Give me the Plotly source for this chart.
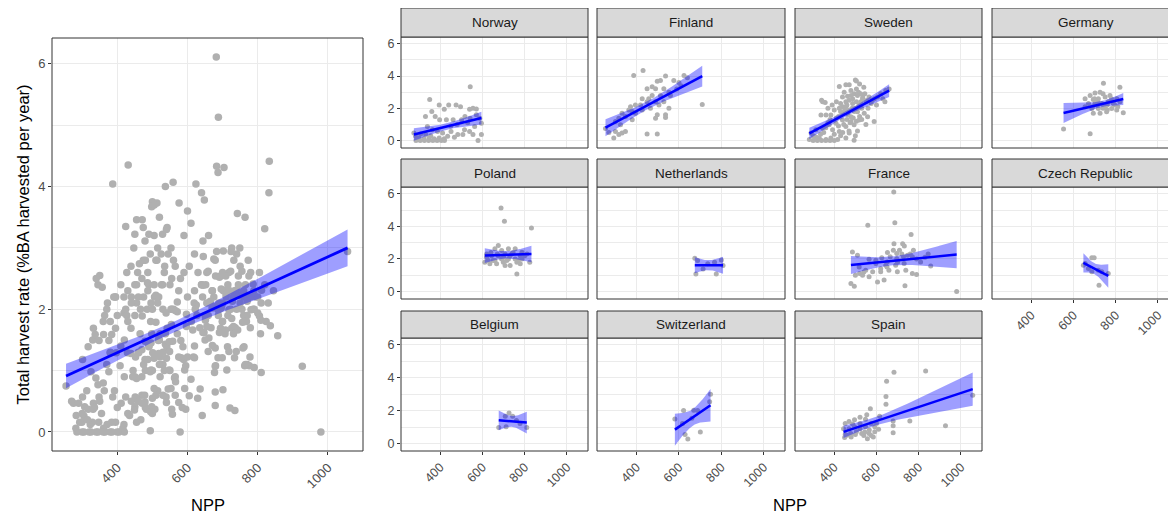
import numpy as np
import plotly.graph_objects as go

# ---------------- data ----------------
countries = ["Norway", "Finland", "Sweden", "Germany", "Poland", "Netherlands",
             "France", "Czech Republic", "Belgium", "Switzerland", "Spain"]

norway_npp = [542, 350, 395, 440, 419, 475, 496, 539, 555, 571, 376, 397, 429, 461, 501, 517, 541, 571, 587,
              595, 579, 555, 539, 339, 363, 387, 411, 451, 483, 283, 299, 323, 347, 371, 395, 419, 307, 331,
              275, 435, 467, 515, 507, 563, 595, 285, 305, 325, 345, 365, 385, 405, 420, 355, 450, 480, 530,
              330, 360]
norway_harvest = [3.33, 2.55, 2.2, 2.2, 1.94, 2.2, 2.1, 1.94, 2.0, 1.96, 1.49, 1.29, 1.29, 1.29, 1.29, 1.49, 1.39,
                  1.6, 1.39, 0.37, 0.0, 0.37, 0.57, 0.88, 0.67, 0.57, 0.47, 0.57, 0.37, 0.27, 0.16, 0.12, 0.16,
                  0.12, 0.16, 0.12, 0.41, 0.37, 0.47, 0.27, 0.2, 0.67, 0.37, 0.88, 1.08, 0.0, 0.0, 0.0, 0.0,
                  0.0, 0.0, 0.0, 0.0, 0.3, 0.9, 1.0, 1.1,
                  1.5, 1.8]

finland_npp = [254, 270, 293, 301, 317, 332, 348, 301, 317, 325, 332, 348, 364, 372, 380, 380, 395, 395, 387,
               419, 427, 427, 431, 450, 450, 458, 466, 474, 474, 490, 490, 490, 498, 498, 506, 513, 513, 529,
               529, 537, 537, 537, 553, 553, 576, 600, 624, 450, 498, 710, 560, 590, 640, 610]
finland_harvest = [0.75, 0.5, 0.16, 0.57, 0.37, 0.47, 0.57, 1.18, 1.39, 0.98, 1.69, 1.49, 1.9, 2.1, 1.29, 1.8,
                   1.69, 2.2, 4.04, 2.2, 1.9, 2.6, 4.35, 2.4, 3.22, 2.6, 2.0, 2.8, 3.33, 2.4, 3.22, 1.39, 1.6,
                   3.67, 2.2, 2.8, 3.73, 2.4, 3.22, 1.6, 1.43, 4.0, 2.0, 3.0, 3.73, 3.6, 4.04, 0.41, 0.41, 2.24,
                   2.8, 3.2, 3.9, 3.4]

sweden_npp = [424, 455, 471, 479, 494, 439, 463, 510, 534, 345, 357, 455, 487, 518, 550, 605, 644, 660, 337,
              361, 384, 439, 471, 510, 542, 439, 479, 518, 558, 589, 408, 376, 345, 313, 290, 305, 329, 361,
              384, 416, 455, 494, 471, 424, 392, 455, 494, 282, 479, 455, 424, 487, 526, 447, 500, 505, 520,
              540, 430, 465, 500, 530, 410, 445, 520, 560, 580, 620, 300, 320, 340, 360, 380, 400, 430, 470,
              510, 400,
              505, 515, 525, 535, 545, 555, 565, 575, 590, 600, 630, 640, 485, 495, 505, 515, 480, 470, 460,
              450, 440, 430, 420, 410, 400, 390, 380, 370, 360, 350, 335, 315, 300, 460, 475, 490, 505, 530,
              550, 420, 440, 500, 340, 370]
sweden_harvest = [3.35, 3.46, 3.46, 3.11, 2.9, 2.7, 2.74, 2.8, 2.6, 2.4, 2.36, 2.4, 2.3, 2.2, 2.4, 2.7, 3.11,
                  3.2, 1.59, 1.59, 1.59, 1.69, 1.89, 1.79, 1.69, 1.28, 1.18, 1.28, 1.48, 1.18, 1.08, 0.98,
                  0.77, 0.67, 0.47, 0.26, 0.16, 0.06, 0.16, 0.06, 0.16, 0.02, 0.47, 0.57, 0.67, 0.87, 0.98,
                  0.06, 1.48, 2.1, 2.0, 2.6, 2.4, 3.0, 3.75, 3.7, 3.5, 3.3, 2.3, 1.6, 2.0, 2.0, 1.4, 1.0,
                  1.5, 2.0, 2.5, 2.9, 0.0, 0.0, 0.0, 0.0, 0.0, 0.0, 0.3, 0.6, 0.6, 0.4,
                  3.2, 3.0, 2.9, 2.7, 2.9, 2.5, 2.7, 2.3, 2.6, 2.2, 2.6, 2.4, 2.0, 1.8, 2.4, 2.1, 2.8, 2.5,
                  2.2, 1.9, 2.1, 1.8, 1.5, 2.4, 1.9, 2.2, 1.3, 1.1, 0.8, 0.5, 0.4, 0.2, 0.3, 1.3, 1.1, 1.4,
                  1.2, 1.3, 1.0, 0.9, 0.5, 0.3, 2.5, 2.0]

germany_npp = [742, 820, 726, 702, 679, 655, 694, 718, 750, 773, 805, 671, 702, 734, 765, 789, 820, 687, 718,
               750, 781, 805, 836, 694, 726, 757, 553, 679, 655, 710,
               690, 700, 715, 740, 760, 780, 795, 810, 740, 760]
germany_harvest = [3.56, 3.31, 3.0, 2.95, 2.8, 2.6, 2.54, 2.6, 2.7, 2.8, 2.6, 2.3, 2.3, 2.3, 2.4, 2.3, 2.4,
                   1.99, 1.99, 2.1, 1.99, 1.89, 1.73, 1.69, 1.69, 1.79, 0.71, 0.43, 2.1, 2.2,
                   2.1, 2.6, 2.4, 2.0, 2.2, 2.6, 2.2, 2.1, 2.9, 1.9]

poland_npp = [688, 704, 832, 675, 659, 691, 723, 755, 787, 619, 643, 675, 707, 739, 779, 811, 611, 635, 667,
              699, 731, 763, 824, 627, 659, 691, 723, 755, 787, 763, 707, 779,
              640, 650, 670, 700, 715, 730, 745, 770, 800, 620]
poland_harvest = [5.13, 4.31, 3.9, 2.82, 2.62, 2.52, 2.62, 2.62, 2.41, 2.1, 2.2, 2.2, 2.31, 2.31, 2.2, 2.31,
                  1.8, 1.7, 1.7, 1.8, 1.6, 1.8, 1.8, 1.9, 1.9, 2.0, 2.0, 2.0, 2.0, 1.08, 1.6, 1.7,
                  2.4, 1.9, 2.3, 2.1, 1.9, 2.2, 2.4, 1.9, 2.2, 2.3]

netherlands_npp = [675, 688, 714, 680, 776, 800, 808, 736, 768]
netherlands_harvest = [2.04, 1.9, 1.39, 1.08, 1.08, 1.94, 1.6, 1.7, 1.8]

france_npp = [682, 687, 559, 764, 683, 724, 732, 775, 680, 709, 652, 625, 565, 486, 510, 696, 747, 665, 696,
              728, 809, 857, 597, 644, 691, 731, 518, 549, 582, 620, 659, 699, 739, 534, 565, 605, 636, 479,
              495, 735, 980, 770, 651, 597,
              520, 540, 500, 620, 650, 700, 720, 760, 790, 830, 845, 770, 790]
france_harvest = [6.11, 4.23, 4.07, 3.5, 2.94, 2.94, 2.8, 2.54, 2.54, 2.54, 2.4, 2.07, 1.98, 2.43, 2.23, 2.33,
                  2.23, 2.13, 2.02, 2.13, 1.82, 1.57, 1.72, 1.62, 1.62, 1.72, 1.51, 1.31, 1.21, 1.21, 1.31,
                  1.21, 1.31, 1.0, 0.9, 0.59, 0.7, 0.49, 0.33, 0.35, 0.0, 2.13, 1.82, 1.92,
                  1.1, 1.2, 1.0, 1.4, 1.5, 1.8, 2.3, 2.3, 2.0, 2.1, 2.3, 1.1, 1.05]

czech_npp = [687, 698, 647, 671, 687, 718, 765, 721, 655, 734]
czech_harvest = [2.07, 2.07, 1.62, 1.41, 1.21, 1.31, 1.1, 0.39, 1.72, 1.21]

belgium_npp = [726, 708, 677, 712, 761, 810, 743, 778]
belgium_harvest = [1.85, 1.66, 0.97, 1.01, 1.39, 0.97, 1.66, 1.22]

switzerland_npp = [581, 622, 670, 688, 749, 745, 629, 642, 701, 617, 661]
switzerland_harvest = [1.49, 2.0, 2.02, 2.0, 3.0, 2.54, 0.55, 0.27, 0.69, 1.22, 1.53]

spain_npp = [683, 833, 648, 645, 645, 571, 615, 758, 679, 927, 679, 679, 1056, 452, 470, 496, 522, 548, 575,
             592, 444, 470, 496, 522, 548, 566, 592, 452, 478, 505, 540, 557, 575, 449, 600, 522, 487, 554, 610,
             460, 480, 500, 530, 545, 565, 585]
spain_harvest = [4.33, 4.41, 3.78, 2.86, 2.39, 2.12, 1.66, 1.37, 1.37, 1.07, 1.07, 0.65, 2.94, 1.22, 1.34,
                 1.45, 1.6, 1.47, 1.22, 1.01, 0.9, 0.9, 1.01, 0.9, 1.01, 0.82, 0.71, 0.55, 0.6, 0.71, 0.48,
                 0.29, 0.48, 0.36, 1.22, 1.22, 1.18, 1.75, 0.86,
                 0.5, 0.4, 0.55, 0.6, 0.7, 0.6, 0.4]

npp_by_country = [norway_npp, finland_npp, sweden_npp, germany_npp, poland_npp, netherlands_npp,
                  france_npp, czech_npp, belgium_npp, switzerland_npp, spain_npp]
harvest_by_country = [norway_harvest, finland_harvest, sweden_harvest, germany_harvest, poland_harvest,
                      netherlands_harvest, france_harvest, czech_harvest, belgium_harvest,
                      switzerland_harvest, spain_harvest]

x_ticks = [400, 600, 800, 1000]
y_ticks = [0, 2, 4, 6]

# ---------------- helpers ----------------
WIN_W, WIN_H = 1176, 517
OX, OY = 8, 8                      # page body margin
FW, FH = WIN_W - OX, WIN_H - OY    # figure size
POINT = "#B0B0B0"
LINE = "#0000FF"
BAND = "rgba(0,0,255,0.38)"
GRID = "#EBEBEB"
TICKC = "#4D4D4D"
FONT = "Liberation Sans, Arial, sans-serif"


def t_quant(df):
    z = 1.959964
    return z + (z ** 3 + z) / (4 * df) + (5 * z ** 5 + 16 * z ** 3 + 3 * z) / (96 * df ** 2) \
        + (3 * z ** 7 + 19 * z ** 5 + 17 * z ** 3 - 15 * z) / (384 * df ** 3)


def lm_fit(x, y, n=80):
    x = np.asarray(x, float)
    y = np.asarray(y, float)
    b1, b0 = np.polyfit(x, y, 1)
    res = y - (b0 + b1 * x)
    s = np.sqrt(np.sum(res ** 2) / (len(x) - 2))
    sxx = np.sum((x - x.mean()) ** 2)
    xs = np.linspace(x.min(), x.max(), n)
    yh = b0 + b1 * xs
    se = s * np.sqrt(1 / len(x) + (xs - x.mean()) ** 2 / sxx)
    t = t_quant(len(x) - 2)
    return xs, yh, yh - t * se, yh + t * se


def px(x):
    return (x - OX) / FW


def py(y):
    return 1 - (y - OY) / FH


fig = go.Figure()
shapes = []
annotations = []

X_RANGE = [214, 1100]


def add_panel(idx, xs_data, ys_data, xdom_px, ydom_px, yrange, msize, lw,
              show_x, show_y, xlab_size, ylab_size):
    xa = "x" if idx == 1 else f"x{idx}"
    ya = "y" if idx == 1 else f"y{idx}"
    fig.add_trace(go.Scatter(x=xs_data, y=ys_data, mode="markers",
                             marker=dict(color=POINT, size=msize, line=dict(width=0)),
                             xaxis=xa, yaxis=ya, hoverinfo="skip"))
    fx, fy, lo, hi = lm_fit(xs_data, ys_data)
    fig.add_trace(go.Scatter(x=list(fx) + list(fx[::-1]), y=list(hi) + list(lo[::-1]),
                             fill="toself", fillcolor=BAND, line=dict(width=0), mode="lines",
                             xaxis=xa, yaxis=ya, hoverinfo="skip"))
    fig.add_trace(go.Scatter(x=fx, y=fy, mode="lines", line=dict(color=LINE, width=lw),
                             xaxis=xa, yaxis=ya, hoverinfo="skip"))
    a, b = xdom_px
    xr = list(X_RANGE)
    bb = b
    if b > WIN_W:  # panel cut by the right edge of the picture
        xr[1] = X_RANGE[0] + (WIN_W - a) / (b - a) * (X_RANGE[1] - X_RANGE[0])
        bb = WIN_W
    key_x = "xaxis" if idx == 1 else f"xaxis{idx}"
    key_y = "yaxis" if idx == 1 else f"yaxis{idx}"
    fig.layout[key_x] = dict(domain=[px(a), px(bb)], range=xr, anchor=ya,
                             tickmode="array", tickvals=x_ticks, ticktext=[str(v) for v in x_ticks],
                             showgrid=True, gridcolor=GRID, gridwidth=1, zeroline=False,
                             showticklabels=show_x, ticks="outside" if show_x else "",
                             ticklen=3, tickwidth=1, tickcolor="#333333", tickangle=-45,
                             tickfont=dict(family=FONT, size=xlab_size, color=TICKC),
                             showline=False, fixedrange=True)
    fig.layout[key_y] = dict(domain=[py(ydom_px[1]), py(ydom_px[0])], range=yrange, anchor=xa,
                             tickmode="array", tickvals=y_ticks, ticktext=[str(v) for v in y_ticks],
                             showgrid=True, gridcolor=GRID, gridwidth=1, zeroline=False,
                             minor=dict(tickmode="array", tickvals=[1, 3, 5], showgrid=True,
                                        gridcolor=GRID, gridwidth=0.6, ticks=""),
                             showticklabels=show_y, ticks="outside" if show_y else "",
                             ticklen=3, tickwidth=1, tickcolor="#333333",
                             tickfont=dict(family=FONT, size=ylab_size, color=TICKC),
                             showline=False, fixedrange=True)
    shapes.append(dict(type="rect", xref="paper", yref="paper",
                       x0=px(a), x1=px(b), y0=py(ydom_px[1]), y1=py(ydom_px[0]),
                       line=dict(color="#333333", width=1), fillcolor="rgba(0,0,0,0)", layer="above"))


# left panel: all countries pooled
all_npp = [v for lst in npp_by_country for v in lst]
all_harvest = [v for lst in harvest_by_country for v in lst]
add_panel(1, all_npp, all_harvest, (52, 363), (38, 451), [-0.31, 6.42], 7.5, 2.8,
          True, True, 13, 13)

# facets
col_px = [(401, 588), (597, 785), (795, 982), (992, 1179)]
row_panel = [(37, 148), (187, 299), (338, 451)]
row_strip = [(8, 37), (159, 187), (311, 338)]

for i, c in enumerate(countries):
    r, k = divmod(i, 4)
    idx = i + 2
    show_x = (r == 2) or (r == 1 and k == 3)
    show_y = (k == 0)
    add_panel(idx, npp_by_country[i], harvest_by_country[i], col_px[k], row_panel[r],
              [-0.46, 6.42], 5, 2.5, show_x, show_y, 12.5, 12.5)
    a, b = col_px[k]
    st, sb = row_strip[r]
    shapes.append(dict(type="rect", xref="paper", yref="paper",
                       x0=px(a), x1=px(b), y0=py(sb), y1=py(st),
                       line=dict(color="#333333", width=1), fillcolor="#D9D9D9", layer="above"))
    annotations.append(dict(text=c, xref="paper", yref="paper", x=px((a + b) / 2),
                            y=py((st + sb) / 2), showarrow=False, xanchor="center", yanchor="middle",
                            font=dict(family=FONT, size=13.5, color="#1A1A1A")))

# axis titles
annotations.append(dict(text="NPP", xref="paper", yref="paper", x=px(207.5), y=py(505),
                        showarrow=False, xanchor="center", yanchor="middle",
                        font=dict(family=FONT, size=16.5, color="#000000")))
annotations.append(dict(text="NPP", xref="paper", yref="paper", x=px(790), y=py(505),
                        showarrow=False, xanchor="center", yanchor="middle",
                        font=dict(family=FONT, size=16.5, color="#000000")))
annotations.append(dict(text="Total harvest rate (%BA harvested per year)", xref="paper", yref="paper",
                        x=px(22), y=py(244.5), showarrow=False, textangle=-90,
                        xanchor="center", yanchor="middle",
                        font=dict(family=FONT, size=16.5, color="#000000")))

fig.update_layout(width=FW, height=FH, margin=dict(l=0, r=0, t=0, b=0),
                  paper_bgcolor="white", plot_bgcolor="white", showlegend=False,
                  shapes=shapes, annotations=annotations, hovermode=False)

fig.write_html("out.html")
